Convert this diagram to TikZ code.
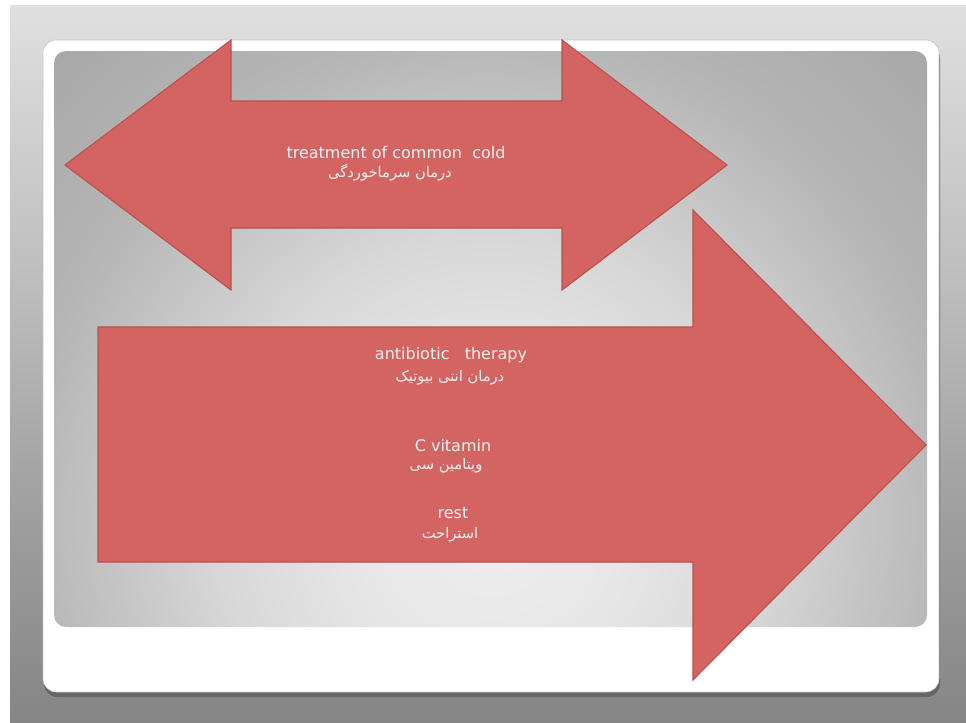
\documentclass[tikz,border=0pt]{standalone}
\usepackage{fontspec}
\setmainfont{DejaVu Sans}
\newfontfamily\farsifont[Script=Arabic]{DejaVu Sans}
\TeXXeTstate=1
\usepackage{xcolor}
\usepackage{tikz}

\definecolor{bgTop}{HTML}{E0E0E0}
\definecolor{bgBottom}{HTML}{858585}
\definecolor{cardShadow}{HTML}{666666}
\definecolor{cardEdge}{HTML}{C4C4C4}
\definecolor{panelLight}{HTML}{EEEEEE}
\definecolor{panelSoft}{HTML}{E8E8E8}
\definecolor{panelMid}{HTML}{D8D8D8}
\definecolor{panelEdge}{HTML}{B5B5B5}
\definecolor{panelDark}{HTML}{A4A4A4}
\definecolor{arrowFill}{HTML}{D46462}
\definecolor{arrowEdge}{HTML}{BE4E4B}
\definecolor{textPink}{HTML}{FFF2F2}

\pgfdeclareradialshading{panelglow}{\pgfpoint{0bp}{0bp}}{%
  color(0bp)=(panelLight); color(7bp)=(panelSoft); color(15bp)=(panelMid);
  color(26bp)=(panelEdge); color(38bp)=(panelDark); color(50bp)=(panelDark)}

\begin{document}
\begin{tikzpicture}[
    x=0.75pt, y=-0.75pt,
    arrowshape/.style={fill=arrowFill, draw=arrowEdge, line width=0.8pt, line join=miter},
    entxt/.style={text=textPink, inner sep=0pt, font=\fontsize{12}{14}\selectfont},
    fatxt/.style={text=textPink, inner sep=0pt, font=\farsifont\fontsize{11}{13}\selectfont},
]
    \useasboundingbox (0,0) rectangle (966,722);
    % slide background
    \fill[white] (0,0) rectangle (966,722);
    \shade[top color=bgTop, bottom color=bgBottom] (10,5) rectangle (966,722);
    % card and inner panel
    \fill[cardShadow, rounded corners=10pt] (44,45) rectangle (940,697);
    \filldraw[fill=white, draw=cardEdge, line width=0.4pt, rounded corners=10pt] (43,40) rectangle (939,692);
    \begin{scope}
        \clip[rounded corners=9pt] (54,51) rectangle (927,627);
        \shade[shading=panelglow] (40,50) rectangle (940,990);
    \end{scope}

    % double arrow
    \draw[arrowshape] (65,165) -- (231,40) -- (231,101) -- (562,101) -- (562,40)
        -- (727,165) -- (562,290) -- (562,228) -- (231,228) -- (231,290) -- cycle;
    % right arrow
    \draw[arrowshape] (98,327) -- (693,327) -- (693,210) -- (926,445)
        -- (693,680) -- (693,562) -- (98,562) -- cycle;

    % texts
    \node[entxt] (cold) at (396,153) {treatment of common\ \ cold};
    \node[fatxt] (coldfa) at (390,173) {\beginR درمان سرماخوردگی\endR};

    \node[entxt] (abx) at (451,355) {antibiotic\ \ \ therapy};
    \node[fatxt] (abxfa) at (450,378) {\beginR درمان انتی بیوتیک\endR};
    \node[entxt] (vitc) at (453,446) {C vitamin};
    \node[fatxt] (vitcfa) at (446,466) {\beginR ویتامین سی\endR};
    \node[entxt] (rest) at (453,513) {rest};
    \node[fatxt] (restfa) at (450,535) {\beginR استراحت\endR};
\end{tikzpicture}
\end{document}
